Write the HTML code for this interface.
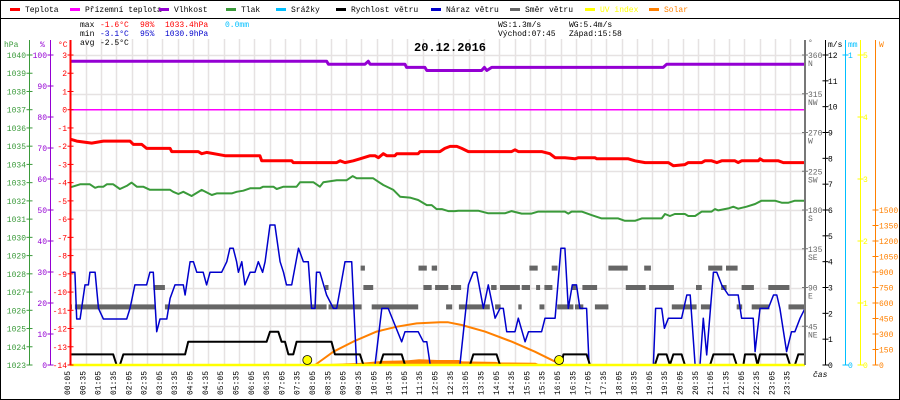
<!DOCTYPE html>
<html><head><meta charset="utf-8"><style>
html,body{margin:0;padding:0;background:#fff;}
svg{display:block;font-family:"Liberation Mono",monospace;}
</style></head><body>
<svg id="c" width="900" height="400" viewBox="0 0 900 400" xmlns="http://www.w3.org/2000/svg">
<rect x="0.5" y="0.5" width="899" height="399" fill="#fff" stroke="#000"/>
<line x1="0" y1="18.5" x2="900" y2="18.5" stroke="#000"/>
<g id="legend" font-size="8"></g>
<g id="grid"></g>
<g font-size="8">
<text x="80" y="27" fill="#000">max</text><text x="100" y="27" fill="#f00">-1.6°C</text><text x="140" y="27" fill="#f00">98%</text><text x="165" y="27" fill="#f00">1033.4hPa</text><text x="225" y="27" fill="#00bfff">0.0mm</text>
<text x="80" y="36" fill="#000">min</text><text x="100" y="36" fill="#00c">-3.1°C</text><text x="140" y="36" fill="#00c">95%</text><text x="165" y="36" fill="#00c">1030.9hPa</text>
<text x="80" y="45" fill="#000">avg</text><text x="100" y="45" fill="#000">-2.5°C</text>
<text x="498" y="27" fill="#000">WS:1.3m/s</text><text x="569" y="27" fill="#000">WG:5.4m/s</text>
<text x="498" y="36" fill="#000">Východ:07:45</text><text x="569" y="36" fill="#000">Západ:15:58</text>
</g>
<text x="414" y="51" font-size="12" font-weight="bold" fill="#000">20.12.2016</text>
<g id="marks"></g>
<g id="axes" font-size="8"></g>
</svg>
<script>
// ---- data ----
const tempH=[0,0.22,0.71,1.09,1.96,2.07,2.34,2.5,3.27,3.32,4.19,4.3,4.46,5.06,6.2,6.26,7.24,7.29,8.71,8.82,8.98,9.25,9.47,9.8,9.96,10.07,10.23,10.34,10.61,10.67,11.37,11.43,12.08,12.24,12.41,12.63,12.79,13.01,14.42,14.53,14.64,15.4,15.67,15.84,16.16,16.49,16.6,17.14,17.2,18.23,18.45,18.78,19.54,19.7,20.08,20.19,20.63,20.73,20.95,21.12,21.28,21.71,21.82,21.93,22.48,22.53,22.64,23.13,23.29,24];
const tempV=[-1.61,-1.72,-1.83,-1.72,-1.72,-1.9,-1.9,-2.12,-2.12,-2.3,-2.3,-2.41,-2.34,-2.52,-2.52,-2.8,-2.8,-2.9,-2.9,-2.8,-2.9,-2.8,-2.69,-2.52,-2.52,-2.63,-2.41,-2.52,-2.52,-2.41,-2.41,-2.3,-2.3,-2.12,-2.01,-2.01,-2.12,-2.3,-2.3,-2.2,-2.3,-2.3,-2.41,-2.63,-2.63,-2.69,-2.63,-2.63,-2.69,-2.69,-2.8,-2.9,-2.9,-3.07,-3.01,-2.9,-2.9,-2.8,-2.8,-2.9,-2.8,-2.8,-2.9,-2.8,-2.8,-2.69,-2.8,-2.8,-2.9,-2.9];
const feelH=[0,24];
const feelV=[0,0];
const humH=[0,8.38,8.44,9.63,9.74,9.8,10.94,10.99,11.59,11.65,13.44,13.53,13.61,13.77,19.37,19.48,24];
const humV=[98,98,97,97,98,97,97,96,96,95,95,96,95,96,96,97,97];
const presH=[0,0.33,0.65,0.82,0.93,1.09,1.2,1.41,1.63,1.85,2.01,2.18,2.39,2.61,3.27,3.37,3.54,3.7,3.97,4.3,4.63,4.79,5.28,5.44,5.66,5.88,6.2,6.31,6.64,6.75,6.97,7.4,7.51,7.95,8.16,8.27,8.71,9.03,9.23,9.36,9.9,10.23,10.56,10.78,11.1,11.37,11.65,11.81,11.97,12.14,12.35,12.57,12.68,13.33,13.66,14.2,14.42,14.75,15.07,15.29,16.16,16.27,16.38,16.71,17.03,17.36,17.9,18.12,18.45,18.67,19.32,19.43,19.59,19.75,20.08,20.19,20.41,20.63,20.95,21.06,21.17,21.5,21.66,21.82,22.09,22.37,22.58,23.02,23.24,23.46,23.67,24];
const presV=[1032.74,1032.91,1032.91,1032.72,1032.78,1032.78,1032.91,1032.91,1032.65,1032.82,1033.0,1032.78,1032.78,1032.61,1032.61,1032.5,1032.38,1032.5,1032.27,1032.6,1032.32,1032.41,1032.41,1032.5,1032.56,1032.69,1032.69,1032.78,1032.78,1032.65,1032.78,1032.78,1033.02,1033.02,1032.78,1033.02,1033.13,1033.13,1033.36,1033.24,1033.24,1032.87,1032.6,1032.23,1032.18,1032.05,1031.77,1031.77,1031.55,1031.55,1031.44,1031.44,1031.46,1031.46,1031.32,1031.32,1031.44,1031.3,1031.3,1031.41,1031.41,1031.3,1031.41,1031.41,1031.22,1031.04,1031.04,1030.91,1030.91,1031.04,1031.04,1031.28,1031.17,1031.28,1031.28,1031.17,1031.17,1031.41,1031.41,1031.55,1031.48,1031.59,1031.68,1031.57,1031.68,1031.83,1032.01,1032.01,1031.9,1031.9,1032.01,1032.01];
const gustH=[0,0.16,0.22,0.33,0.38,0.49,0.6,0.65,0.82,0.93,1.09,1.85,1.96,2.12,2.5,2.61,2.72,2.83,2.94,3.16,3.27,3.43,3.7,3.76,3.92,4.03,4.14,4.35,4.46,4.57,4.95,5.12,5.22,5.33,5.44,5.5,5.61,5.71,5.88,6.04,6.15,6.29,6.37,6.53,6.69,6.86,6.97,7.07,7.24,7.46,7.62,7.78,7.89,8.0,8.05,8.16,8.38,8.6,8.71,8.98,9.2,9.36,9.96,10.18,10.39,10.61,10.83,10.94,11.37,11.54,11.65,11.76,12.73,13.01,13.17,13.28,13.5,13.66,13.88,14.04,14.15,14.26,14.53,14.64,14.86,14.97,15.4,15.51,15.84,16.03,16.16,16.27,16.4,16.54,16.65,16.87,16.95,19.05,19.12,19.32,19.41,19.54,19.97,20.14,20.25,20.41,20.57,20.68,20.79,21.01,21.12,21.28,21.5,21.82,21.93,22.31,22.37,22.53,22.8,22.97,23.08,23.18,23.4,23.56,23.67,23.84,24];
const gustV=[3.59,3.59,1.78,1.78,2.19,3.1,3.1,3.59,3.59,2.19,1.78,1.78,2.19,3.1,3.1,3.59,3.59,1.29,1.78,1.78,2.58,3.1,3.1,2.71,4.0,4.0,3.59,3.59,3.1,3.59,3.59,4.0,4.52,4.52,4.0,3.59,4.0,3.1,3.59,3.59,4.0,3.59,4.0,5.42,5.42,4.0,3.59,3.1,3.1,4.52,4.0,4.0,2.19,2.19,3.59,3.59,2.71,2.19,2.19,4.0,4.0,0,0,2.19,2.19,1.55,0.9,1.29,1.29,0.9,0.9,0,0,3.1,3.59,3.59,2.19,3.1,1.81,2.19,2.19,1.29,1.29,1.81,0.9,1.29,1.29,1.81,1.81,4.52,4.52,2.19,3.1,3.1,2.19,2.19,0,0,2.19,2.19,1.42,1.81,1.81,2.71,2.71,0,0,1.81,0.39,3.59,3.59,3.1,2.71,2.71,1.81,1.81,0.52,2.19,2.19,2.71,2.71,2.19,0.52,1.29,1.29,1.81,2.19];
const windH=[0,1.41,1.52,1.63,1.74,3.76,3.86,6.42,6.53,6.8,6.91,7.02,7.13,7.29,7.4,8.54,8.65,9.47,9.58,10.12,10.23,10.83,10.94,13.06,13.17,13.93,14.04,16.05,16.11,16.87,16.98,19.1,19.21,19.48,19.59,19.7,19.97,20.08,20.9,21.01,21.66,21.77,21.99,22.04,22.37,22.45,22.53,23.4,23.51,23.67,23.78,24];
const windV=[0.41,0.41,0,0,0.41,0.41,0.9,0.9,1.29,1.29,0.9,0.9,0.41,0.41,0.9,0.9,0.41,0.41,0,0,0.41,0.41,0,0,0.41,0.41,0,0,0.41,0.41,0,0,0.41,0.41,0,0.41,0.41,0,0,0.41,0.41,0,0,0.41,0.41,0,0.41,0.41,0,0,0.41,0.41];
const dirStart=[0,0.16,3.1,8.44,9.85,2.72,8.33,9.58,11.54,11.92,9.49,11.38,11.81,11.92,15.0,15.73,17.58,18.75,20.84,21.42,11.95,12.44,13.75,14.04,14.75,15.22,15.49,16.38,16.73,18.15,18.91,20.44,21.26,21.93,22.8,12.28,12.7,13.88,14.64,15.33,15.91,16.49,17.14,19.65,20.6,21.77,22.26,23.46];
const dirEnd=[0.06,2.78,8.38,9.52,11.37,3.1,8.44,9.9,11.81,12.08,9.63,11.65,11.97,11.97,15.27,15.92,18.21,18.97,21.3,21.8,12.35,12.77,13.93,14.69,15.02,15.35,15.75,16.54,17.21,18.8,19.72,20.63,21.44,22.33,23.49,12.48,13.71,14.06,14.75,15.49,16.44,16.76,17.58,20.46,20.9,21.95,22.84,24];
const dirV=[67.5,67.5,67.5,67.5,67.5,90,90,90,90,90,112.5,112.5,112.5,112.5,112.5,112.5,112.5,112.5,112.5,112.5,90,90,90,90,90,90,90,90,90,90,90,90,90,90,90,67.5,67.5,67.5,67.5,67.5,67.5,67.5,67.5,67.5,67.5,67.5,67.5,67.5];
const solarMaxH=[8.0,8.6,9.25,10.01,10.67,11.32,12.08,12.35,12.79,13.55,14.42,15.18,15.95];
const solarMaxV=[0,129,226,323,371,403,413,413,387,323,226,129,16];
const solarH=[8.5,9.0,9.5,10.2,11.0,11.4,12.0,12.7,12.8,13.9,14.0,15.2,15.3,15.5,15.6];
const solarV=[10,15,20,40,45,55,48,48,35,30,24,22,10,8,0];
const uvH=[0,24];
const uvV=[0,0];
const sunEventsH=[7.75,15.97];
const timeLabels=[];for(let h=0;h<24;h++){const hh=(h<10?'0':'')+h;timeLabels.push(hh+':05');timeLabels.push(hh+':35');}
const hpaTicks=[1040,1039,1038,1037,1036,1035,1034,1033,1032,1031,1030,1029,1028,1027,1026,1025,1024,1023];
const humTicks=[100,90,80,70,60,50,40,30,20,10,0];
const tempTicks=[3,2,1,0,-1,-2,-3,-4,-5,-6,-7,-8,-9,-10,-11,-12,-13,-14];
const dirTicks=[360,315,270,225,180,135,90,45];
const dirNames=['N','NW','W','SW','S','SE','E','NE'];
const msTicks=[12,11,10,9,8,7,6,5,4,3,2,1,0];
const uvTicks=[5,4,3,2,1,0];
const wTicks=[1500,1350,1200,1050,900,750,600,450,300,150,0];

// ---- scales ----
const X0=70,X1=805,Y0=55,Y1=365;
const xH=h=>X0+h*(X1-X0)/24;
const yT=t=>Y0+(3-t)*(Y1-Y0)/17;
const yP=p=>Y0+(1040-p)*(Y1-Y0)/17;
const yHum=v=>Y0+(100-v)*(Y1-Y0)/100;
const yV=v=>Y1-v*(Y1-Y0)/12;
const yD=d=>Y1-d*(Y1-Y0)/360;
const yW=w=>Y1-w*(Y1-Y0)/3000;
const yUV=u=>Y1-u*(Y1-Y0)/5;
const yMM=m=>Y1-m*(Y1-Y0);

const NS='http://www.w3.org/2000/svg';
function mk(tag,attrs,parent){const e=document.createElementNS(NS,tag);for(const k in attrs)e.setAttribute(k,attrs[k]);parent.appendChild(e);return e;}
const grid=document.getElementById('grid'),marks=document.getElementById('marks'),axes=document.getElementById('axes'),legend=document.getElementById('legend');

// legend
const legNames=['Teplota','Přízemní teplota','Vlhkost','Tlak','Srážky','Rychlost větru','Náraz větru','Směr větru','UV index','Solar'];
const legColors=['#f00','#f0f','#9400d3','#3a9a3a','#00bfff','#000','#00c','#666','#ff0','#ff8000'];
const legX=[10,70,159,226,276,336,431,510,585,649];
for(let i=0;i<legNames.length;i++){
  const r=mk('rect',{x:legX[i],y:8,width:10,height:3,fill:legColors[i]},legend);
  
  
  const t=mk('text',{x:legX[i]+15,y:12,fill:(i==8||i==9)?legColors[i]:'#000'},legend);
  t.textContent=legNames[i];
  
  
}

// grid
for(let k=1;k<48;k++){const x=Math.round(X0+0.5+k*(X1-X0)/48)+0.5;
  const l=mk('line',{x1:x,y1:39,x2:x,y2:Y1,stroke:'#e6e2e2','stroke-width':1.5},grid);
  
  }
for(let k=0;k<8;k++){const y=Math.round(yD(360-45*k))+0.5;
  const l=mk('line',{x1:X0,y1:y,x2:X1,y2:y,stroke:'#e6e2e2','stroke-width':1.5},grid);
  
  }

function pts(H,V,fy){return H.map((h,i)=>xH(h).toFixed(1)+','+fy(V[i]).toFixed(1)).join(' ');}
function line(H,V,fy,color,w,name){const p=mk('polyline',{points:pts(H,V,fy),fill:'none',stroke:color,'stroke-width':w,'stroke-linejoin':'round'},marks);
  
  return p;}

// solar measured fill
{const p='M'+xH(solarH[0]).toFixed(1)+','+Y1+' L'+pts(solarH,solarV,yW).replace(/ /g,' L')+' L'+xH(solarH[solarH.length-1]).toFixed(1)+','+Y1+' Z';
 const a=mk('path',{d:p,fill:'#ff8000'},marks);
 
 }
line(solarMaxH,solarMaxV,yW,'#ff8000',2,'solar-theoretical-line');
for(let i=0;i<dirV.length;i++){
  const r=mk('rect',{x:xH(dirStart[i]).toFixed(1),y:(yD(dirV[i])-2.5).toFixed(1),width:Math.max(2,xH(dirEnd[i])-xH(dirStart[i])).toFixed(1),height:5,fill:'#666'},marks);
  
  
}
line(humH,humV,yHum,'#9400d3',3,'humidity-line');
line(feelH,feelV,yT,'#f0f',1.5,'apparent-temperature-line');
line(tempH,tempV,yT,'#f00',3,'temperature-line');
line(presH,presV,yP,'#3a9a3a',2,'pressure-line');
line(gustH,gustV,yV,'#00c',1.5,'wind-gust-line');
line(windH,windV,yV,'#000',2,'wind-speed-line');
line(uvH,uvV,yUV,'#ff0',2.5,'uv-index-line');
for(let i=0;i<sunEventsH.length;i++){
  const c=mk('circle',{cx:xH(sunEventsH[i]).toFixed(1),cy:Y1-5,r:4.5,fill:'#ff0',stroke:'#000','stroke-width':0.8},marks);
  
  
}

// axes
function vaxis(x,color,name,w){const l=mk('line',{x1:x,y1:40,x2:x,y2:Y1,stroke:color,'stroke-width':w||1},axes);
  
  }
function tick(x,y,color){mk('line',{x1:x-3,y1:y,x2:x+3,y2:y,stroke:color,'stroke-width':1},axes);}
function lab(x,y,txt,color,anchor,name){const t=mk('text',{x:x,y:y,fill:color,'text-anchor':anchor||'start'},axes);t.textContent=txt;
  
  return t;}
vaxis(29.5,'#3a9a3a','hpa-axis');vaxis(50.5,'#9400d3','humidity-axis');vaxis(70.5,'#f00','temperature-axis',2);
vaxis(805,'#777','direction-axis',2);vaxis(825.5,'#000','wind-speed-axis');vaxis(845.5,'#00bfff','rain-axis');vaxis(860.5,'#ff0','uv-axis');vaxis(875.5,'#ff8000','solar-axis');
lab(4,47,'hPa','#3a9a3a','start','hpa-axis-title');lab(40,47,'%','#9400d3','start','humidity-axis-title');lab(58,47,'°C','#f00','start','temperature-axis-title');
lab(808,45,'°','#666','start','direction-axis-title');lab(828,47,'m/s','#000','start','wind-axis-title');lab(848,47,'mm','#00bfff','start','rain-axis-title');lab(879,47,'W','#ff8000','start','solar-axis-title');
hpaTicks.forEach(v=>{const y=yP(v);tick(29.5,y,'#3a9a3a');lab(26,y+3,String(v),'#3a9a3a','end','hpa-tick-label');});
humTicks.forEach(v=>{const y=yHum(v);tick(50.5,y,'#9400d3');lab(47,y+3,String(v),'#9400d3','end','humidity-tick-label');});
tempTicks.forEach(v=>{const y=yT(v);tick(70.5,y,'#f00');lab(67,y+3,String(v),'#f00','end','temperature-tick-label');});
dirTicks.forEach((v,i)=>{const y=yD(v);tick(805,y,'#777');lab(808,y+3,String(v),'#666','start','direction-tick-label');lab(808,y+11,dirNames[i],'#666','start','direction-name-label');});
msTicks.forEach(v=>{const y=yV(v);tick(825.5,y,'#000');lab(828,y+3,String(v),'#000','start','wind-tick-label');});
[1,0].forEach(v=>{const y=yMM(v);tick(845.5,y,'#00bfff');lab(848,y+3,String(v),'#00bfff','start','rain-tick-label');});
uvTicks.forEach(v=>{const y=yUV(v);tick(860.5,y,'#ff0');lab(863,y+3,String(v),'#ff0','start','uv-tick-label');});
wTicks.forEach(v=>{const y=yW(v);tick(875.5,y,'#ff8000');lab(879,y+3,String(v),'#ff8000','start','solar-tick-label');});
timeLabels.forEach((s,k)=>{const x=67+k*(X1-X0)/48+3;
  const t=mk('text',{x:0,y:0,fill:'#000',transform:'translate('+x.toFixed(1)+',395) rotate(-90)'},axes);t.textContent=s;
  
  });
const cas=lab(813,377,'čas','#000','start','x-axis-title');cas.setAttribute('font-style','italic');
</script>
</body></html>
